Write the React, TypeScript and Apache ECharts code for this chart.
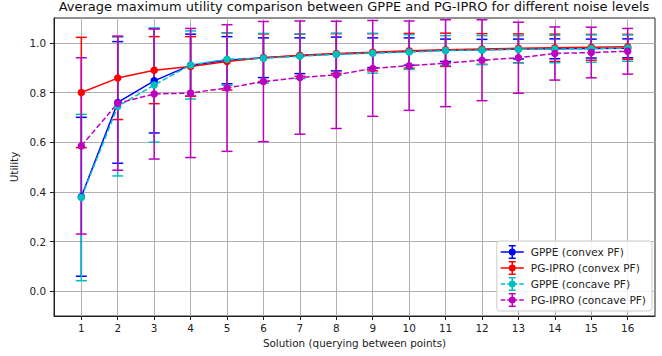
import React, { useEffect, useRef } from "react";
import * as echarts from "echarts";

const solutions = [1, 2, 3, 4, 5, 6, 7, 8, 9, 10, 11, 12, 13, 14, 15, 16];
const yTicks = [0, 0.2, 0.4, 0.6, 0.8, 1.0];

const gppeConvex = [0.38, 0.76, 0.847, 0.91, 0.93, 0.94, 0.948, 0.955, 0.96, 0.965, 0.97, 0.972, 0.975, 0.976, 0.977, 0.978];
const gppeConvexErr = [0.32, 0.245, 0.21, 0.125, 0.095, 0.08, 0.072, 0.068, 0.06, 0.055, 0.045, 0.042, 0.04, 0.04, 0.038, 0.038];

const pgiproConvex = [0.8, 0.858, 0.89, 0.905, 0.925, 0.94, 0.95, 0.957, 0.962, 0.968, 0.972, 0.975, 0.978, 0.98, 0.982, 0.984];
const pgiproConvexErr = [0.222, 0.167, 0.135, 0.12, 0.115, 0.096, 0.085, 0.08, 0.075, 0.07, 0.067, 0.062, 0.058, 0.055, 0.052, 0.05];

const gppeConcave = [0.377, 0.744, 0.83, 0.911, 0.934, 0.938, 0.946, 0.954, 0.958, 0.963, 0.969, 0.971, 0.974, 0.975, 0.977, 0.979];
const gppeConcaveErr = [0.335, 0.28, 0.23, 0.137, 0.105, 0.1, 0.09, 0.085, 0.08, 0.07, 0.06, 0.058, 0.055, 0.055, 0.055, 0.053];

const pgiproConcave = [0.585, 0.757, 0.794, 0.798, 0.818, 0.844, 0.86, 0.871, 0.897, 0.908, 0.918, 0.93, 0.94, 0.957, 0.961, 0.966];
const pgiproConcaveErr = [0.355, 0.27, 0.262, 0.26, 0.255, 0.242, 0.228, 0.216, 0.193, 0.18, 0.175, 0.163, 0.143, 0.107, 0.102, 0.092];

const seriesNames = ["GPPE (convex PF)", "PG-IPRO (convex PF)", "GPPE (concave PF)", "PG-IPRO (concave PF)"];
const seriesColors = ["#0000ff", "#ff0000", "#00bfbf", "#bf00bf"];
const seriesDashed = [false, false, true, true];
const seriesMeans = [gppeConvex, pgiproConvex, gppeConcave, pgiproConcave];
const seriesErrs = [gppeConvexErr, pgiproConvexErr, gppeConcaveErr, pgiproConcaveErr];

const FONT = "DejaVu Sans";

const iconCommon =
  "M10.75 0H12.25V14H10.75Z M8 0H15V1.5H8Z M8 12.5H15V14H8Z M8 7A3.5 3.5 0 1 1 15 7A3.5 3.5 0 1 1 8 7Z";
const iconSolid = "path://M0 6.25H23V7.75H0Z " + iconCommon;
const iconDashed =
  "path://M0 6.25H4.5V7.75H0Z M6.5 6.25H9V7.75H6.5Z M14 6.25H16.5V7.75H14Z M18.5 6.25H23V7.75H18.5Z " + iconCommon;

function errSeries(idx: number) {
  const means = seriesMeans[idx];
  const errs = seriesErrs[idx];
  const color = seriesColors[idx];
  return {
    type: "custom",
    name: "err-" + idx,
    z: 1,
    silent: true,
    data: solutions.map((s, i) => [s, means[i] - errs[i], means[i] + errs[i]]),
    encode: { x: 0, y: [1, 2] },
    renderItem: (_params: any, api: any) => {
      const x = api.value(0);
      const lo = api.coord([x, api.value(1)]);
      const hi = api.coord([x, api.value(2)]);
      const cap = 5.5;
      const style = { stroke: color, lineWidth: 1.5, fill: "none" };
      return {
        type: "group",
        children: [
          { type: "line", shape: { x1: lo[0], y1: lo[1], x2: hi[0], y2: hi[1] }, style },
          { type: "line", shape: { x1: lo[0] - cap, y1: lo[1], x2: lo[0] + cap, y2: lo[1] }, style },
          { type: "line", shape: { x1: hi[0] - cap, y1: hi[1], x2: hi[0] + cap, y2: hi[1] }, style },
        ],
      };
    },
  };
}

function lineSeries(idx: number) {
  return {
    type: "line",
    name: seriesNames[idx],
    z: 2,
    data: solutions.map((s, i) => [s, seriesMeans[idx][i]]),
    symbol: "circle",
    symbolSize: 7.5,
    showAllSymbol: true,
    itemStyle: { color: seriesColors[idx], borderWidth: 0 },
    lineStyle: {
      color: seriesColors[idx],
      width: 1.5,
      type: seriesDashed[idx] ? [5.5, 2.4] : "solid",
    },
    emphasis: { disabled: true },
  };
}

export default function App() {
  const ref = useRef<HTMLDivElement>(null);
  useEffect(() => {
    document.body.style.margin = "0";
    const chart = echarts.init(ref.current!, null, { renderer: "svg" });
    const option: any = {
      animation: false,
      textStyle: { fontFamily: FONT },
      title: {
        text: "Average maximum utility comparison between GPPE and PG-IPRO for different noise levels",
        left: 354,
        textAlign: "center",
        top: 0,
        padding: 0,
        textStyle: { fontFamily: FONT, fontSize: 13, fontWeight: "normal", color: "#111" },
      },
      grid: {
        left: 54,
        right: 7,
        top: 18,
        bottom: 40,
        show: true,
        borderColor: "#222",
        borderWidth: 1,
        backgroundColor: "transparent",
      },
      legend: {
        orient: "vertical",
        right: 10,
        bottom: 45,
        padding: [4, 6, 4, 4],
        itemGap: 2,
        itemWidth: 23,
        itemHeight: 14,
        backgroundColor: "rgba(255,255,255,0.85)",
        borderColor: "#cccccc",
        borderWidth: 1,
        borderRadius: 3,
        selectedMode: false,
        itemStyle: { borderWidth: 0 },
        textStyle: { fontFamily: FONT, fontSize: 10.6, color: "#222", padding: [0, 0, 0, 2] },
        data: seriesNames.map((n, i) => ({ name: n, icon: seriesDashed[i] ? iconDashed : iconSolid })),
      },
      xAxis: {
        type: "value",
        min: 0.25,
        max: 16.75,
        name: "Solution (querying between points)",
        nameLocation: "middle",
        nameGap: 21,
        nameTextStyle: { fontFamily: FONT, fontSize: 10.4, color: "#222" },
        axisLine: { show: true, onZero: false, lineStyle: { color: "#222", width: 1 } },
        axisTick: { show: true, length: 4, customValues: solutions, lineStyle: { color: "#222" } },
        axisLabel: {
          customValues: solutions,
          margin: 7,
          fontFamily: FONT,
          fontSize: 10.4,
          color: "#222",
          formatter: (v: number) => String(v),
        },
        splitLine: { show: true, lineStyle: { color: "#b0b0b0", width: 1 } },
      },
      yAxis: {
        type: "value",
        min: -0.1,
        max: 1.1,
        name: "Utility",
        nameLocation: "middle",
        nameGap: 25,
        nameTextStyle: { fontFamily: FONT, fontSize: 10.4, color: "#222" },
        axisLine: { show: true, onZero: false, lineStyle: { color: "#222", width: 1 } },
        axisTick: { show: true, length: 4, customValues: yTicks, lineStyle: { color: "#222" } },
        axisLabel: {
          customValues: yTicks,
          margin: 8,
          fontFamily: FONT,
          fontSize: 10.4,
          color: "#222",
          formatter: (v: number) => v.toFixed(1),
        },
        splitLine: { show: true, lineStyle: { color: "#b0b0b0", width: 1 } },
      },
      series: [
        errSeries(0),
        errSeries(1),
        errSeries(2),
        errSeries(3),
        lineSeries(0),
        lineSeries(1),
        lineSeries(2),
        lineSeries(3),
      ],
    };
    chart.setOption(option);
    return () => chart.dispose();
  }, []);
  return (
    <div
      ref={ref}
      style={{ position: "fixed", left: 0, top: 0, width: 662, height: 356, background: "#fff" }}
    />
  );
}
